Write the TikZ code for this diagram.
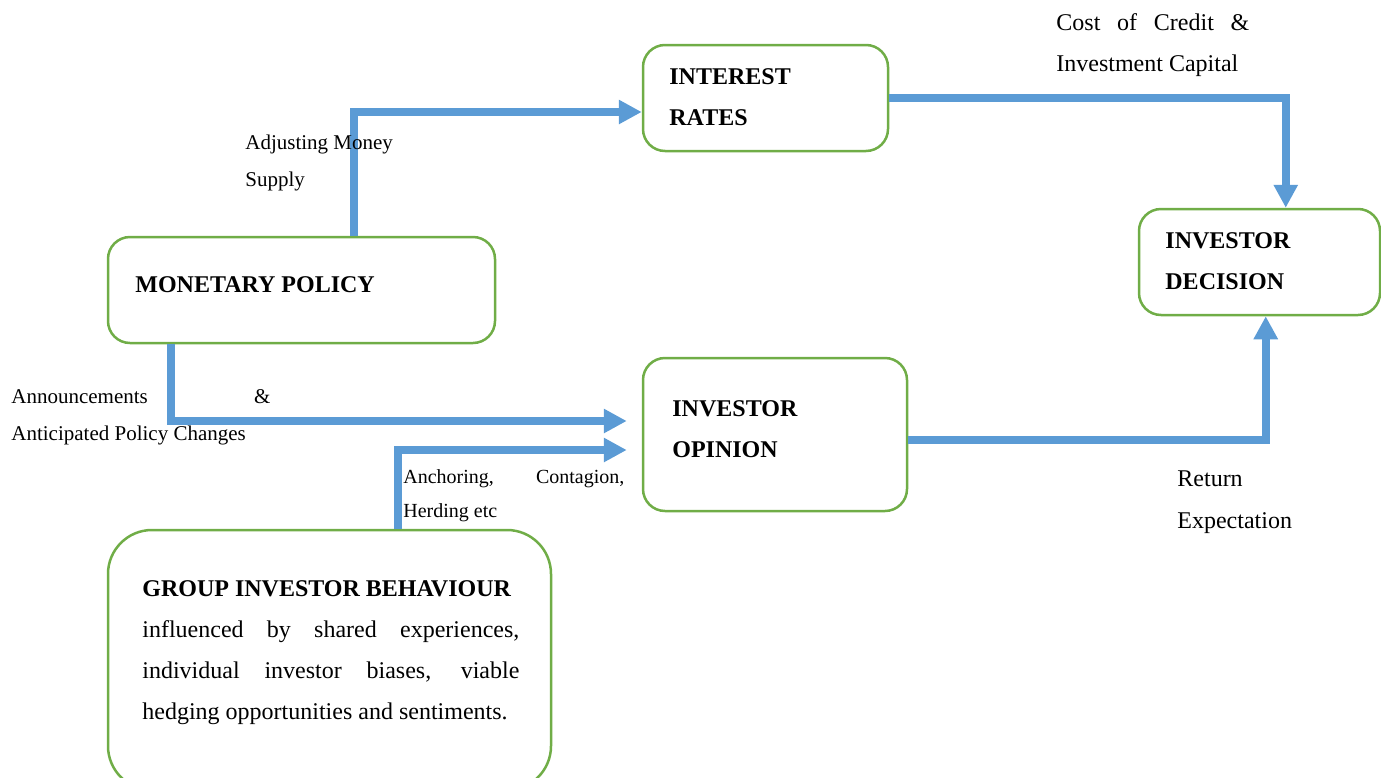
\documentclass[tikz,border=0pt]{standalone}
\usepackage{fontspec}
\setmainfont{Liberation Serif}
\usetikzlibrary{arrows.meta}
\definecolor{boxgreen}{HTML}{70AD47}
\definecolor{flowblue}{HTML}{5B9BD5}
\tikzset{
  box/.style = {draw=boxgreen, line width=1.25pt, rounded corners=11pt, inner sep=0pt},
  flow/.style = {draw=flowblue, line width=4pt, -{Triangle[length=11.5pt,width=11.5pt]}},
  head/.style = {anchor=base west, inner sep=0pt, font=\fontsize{12}{14}\selectfont\bfseries},
  body/.style = {anchor=base west, inner sep=0pt, font=\fontsize{12}{14}\selectfont},
  small/.style = {anchor=base west, inner sep=0pt, font=\fontsize{10.5}{12}\selectfont},
  tiny/.style = {anchor=base west, inner sep=0pt, font=\fontsize{10}{12}\selectfont}
}
\begin{document}
\begin{tikzpicture}[x=0.5pt, y=-0.5pt]
  \useasboundingbox (0,0) rectangle (1381,777);
  % boxes
  \node[box, minimum width=193.5pt, minimum height=53pt] (mp) at (301.5,290) {};
  \node[box, minimum width=122.5pt, minimum height=53pt] (ir) at (765.5,98) {};
  \node[box, minimum width=120.5pt, minimum height=53pt] (idc) at (1259.5,262) {};
  \node[box, minimum width=132pt, minimum height=76.5pt] (op) at (775,434.5) {};
  \node[box, rounded corners=22pt, minimum width=221.5pt, minimum height=130pt] (gb) at (329.5,660) {};
  % box texts
  \node[head] (mpt) at (135,292) {MONETARY POLICY};
  \node[head] (irt1) at (669,84) {INTEREST};
  \node[head] (irt2) at (669,125) {RATES};
  \node[head] (idt1) at (1165,248) {INVESTOR};
  \node[head] (idt2) at (1165,289) {DECISION};
  \node[head] (opt1) at (672,416) {INVESTOR};
  \node[head] (opt2) at (672,457) {OPINION};
  \node[head] (gbt) at (142,596) {GROUP INVESTOR BEHAVIOUR};
  \node[body] (gb1) at (142,637) {\makebox[188.5pt][s]{influenced by shared experiences,}};
  \node[body] (gb2) at (142,678) {\makebox[188.5pt][s]{individual investor biases, viable}};
  \node[body] (gb3) at (142,719) {hedging opportunities and sentiments.};
  % arrows
  \draw[flow] ([xshift=123.5pt]mp.north west) |- ([yshift=-7pt]ir.west);
  \draw[flow] (ir.east) -| ([xshift=74pt]idc.north west);
  \draw[flow] ([xshift=32pt]mp.south west) |- ([xshift=-7.5pt,yshift=6.75pt]op.west);
  \draw[flow] ([xshift=145.5pt]gb.north west) |- ([xshift=-7.5pt,yshift=-7.75pt]op.west);
  \draw[flow] ([yshift=-2.75pt]op.east) -| ([xshift=64pt]idc.south west);
  % arrow labels
  \node[body] (cc1) at (1056,30) {\makebox[96.5pt][s]{Cost of Credit \&}};
  \node[body] (cc2) at (1056,71) {Investment Capital};
  \node[small] (am1) at (245,149) {Adjusting Money};
  \node[small] (am2) at (245,186) {Supply};
  \node[small] (an1) at (11,403) {\makebox[129.5pt][s]{Announcements \&}};
  \node[small] (an2) at (11,440) {Anticipated Policy Changes};
  \node[tiny] (ac1) at (403,483) {\makebox[110.5pt][s]{Anchoring, Contagion,}};
  \node[tiny] (ac2) at (403,517) {Herding etc};
  \node[body] (re1) at (1177,486) {Return};
  \node[body] (re2) at (1177,528) {Expectation};
\end{tikzpicture}
\end{document}
